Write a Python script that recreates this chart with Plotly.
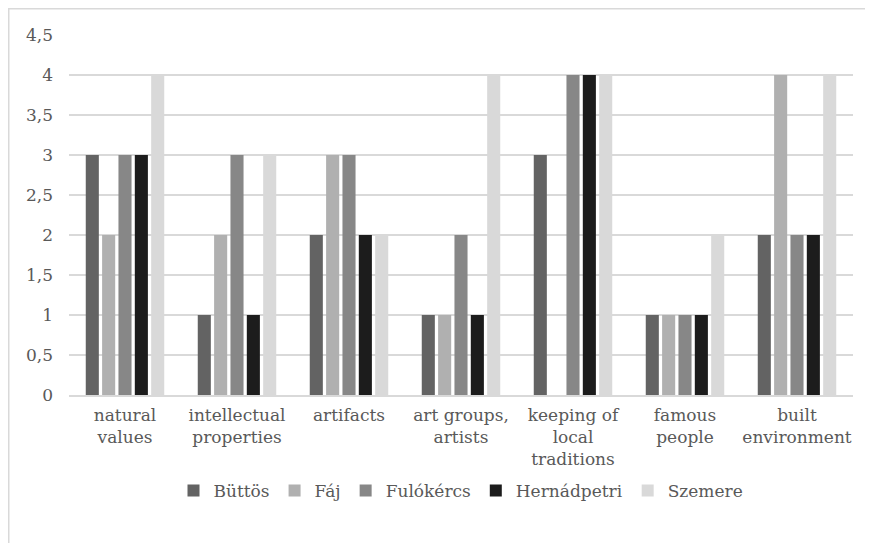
import plotly.graph_objects as go

categories = ["natural<br>values", "intellectual<br>properties", "artifacts", "art groups,<br>artists",
              "keeping of<br>local<br>traditions", "famous<br>people", "built<br>environment"]
series_names = ["Büttös", "Fáj", "Fulókércs", "Hernádpetri", "Szemere"]
buttos = [3, 1, 2, 1, 3, 1, 2]
faj = [2, 2, 3, 1, 0, 1, 4]
fulokercs = [3, 3, 3, 2, 4, 1, 2]
hernadpetri = [3, 1, 2, 1, 4, 1, 2]
szemere = [4, 3, 2, 4, 4, 2, 4]
colors = ["#636363", "#b0b0b0", "#878787", "#1c1c1c", "#d9d9d9"]
tick_vals = [0, 0.5, 1, 1.5, 2, 2.5, 3, 3.5, 4, 4.5]
tick_text = ["0", "0,5", "1", "1,5", "2", "2,5", "3", "3,5", "4", "4,5"]

font = "DejaVu Serif"
fig = go.Figure()
for name, vals, c in zip(series_names, [buttos, faj, fulokercs, hernadpetri, szemere], colors):
    fig.add_trace(go.Bar(name=name, x=categories, y=vals, marker=dict(color=c, line=dict(width=0))))

OFF = 8  # page body margin
W, H = 873 - 2 * OFF, 551 - 2 * OFF
L, T = 69 - OFF, 35 - OFF
pw = (853 - OFF) - L
ph = 360
R = W - L - pw
B = H - T - ph
legend_y_px = 491 - OFF
fig.update_layout(
    width=W, height=H,
    margin=dict(l=L, r=R, t=T, b=B),
    barmode="group", bargap=0.27, bargroupgap=0.2,
    plot_bgcolor="white", paper_bgcolor="white",
    font=dict(family=font, size=17, color="#595959"),
    showlegend=True,
    legend=dict(orientation="h", x=0.5, xanchor="center", y=-(legend_y_px - (T + ph)) / ph,
                yanchor="middle", font=dict(family=font, size=17, color="#595959"),
                traceorder="normal"),
    xaxis=dict(showgrid=False, showline=True, linecolor="#d9d9d9", linewidth=1.5, ticks="",
               ticklabelstandoff=4,
               tickfont=dict(family=font, size=17, color="#595959")),
    yaxis=dict(range=[0, 4.5], tickvals=tick_vals, ticktext=tick_text, showgrid=True,
               gridcolor="#d9d9d9", gridwidth=1.5, zeroline=False, showline=False, ticks="",
               ticklabelstandoff=15,
               tickfont=dict(family=font, size=17, color="#595959")),
    shapes=[dict(type="rect", xref="paper", yref="paper",
                 x0=(0.75 - L) / pw, x1=(W + 30 - L) / pw,
                 y0=-(H + 30 - T - ph) / ph, y1=1 + (T - 0.75) / ph,
                 line=dict(color="#d9d9d9", width=1.5), fillcolor="rgba(0,0,0,0)", layer="below")],
)
fig.write_html("out.html")
